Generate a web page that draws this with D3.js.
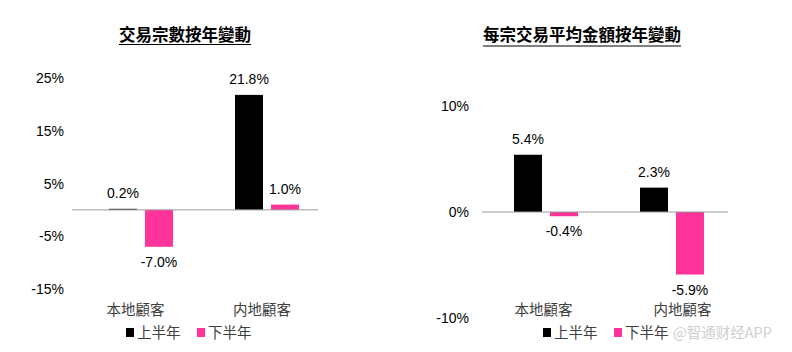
<!DOCTYPE html>
<meta charset="utf-8">
<style>
body { margin: 0; background: #fff; }
svg { display: block; }
.num { font-family: "Liberation Sans", Arial, sans-serif; font-size: 14px; fill: #000; }
.cjk { font-family: "Noto Sans CJK TC", "Noto Sans CJK SC", sans-serif; font-size: 14.5px; fill: #404040; }
.title { font-family: "Noto Sans CJK TC", sans-serif; font-size: 16.5px; font-weight: bold; fill: #000; }
</style>
<body>
<svg width="792" height="352"></svg>
<script src="https://d3js.org/d3.v7.min.js"></script>
<script>

// data
var categories = ["本地顧客", "内地顧客"];
var seriesNames = ["上半年", "下半年"];
var seriesColors = ["#000000", "#ff3399"];

var countTitle = "交易宗數按年變動";
var countH1 = [0.2, 21.8];
var countH2 = [-7.0, 1.0];
var countTicks = [25, 15, 5, -5, -15];

var avgTitle = "每宗交易平均金額按年變動";
var avgH1 = [5.4, 2.3];
var avgH2 = [-0.4, -5.9];
var avgTicks = [10, 0, -10];

var watermark = "@智通财经APP";

var svg = d3.select("svg");

function drawChart(opt) {
  var g = svg.append("g");

  var y = d3.scaleLinear().domain(opt.domain).range([opt.yBottom, opt.yTop]);
  var x = d3.scaleBand().domain(categories).range(opt.xRange);
  // two 28px bars with an 8px gap, centred on the category
  var xs = d3.scaleBand().domain(seriesNames).range([-32, 32]).paddingInner(8 / 36);

  // title with underline
  var t = g.append("text").attr("class", "title")
      .attr("x", opt.titleX).attr("y", 41)
      .attr("text-anchor", "middle")
      .text(opt.title);
  var bb = t.node().getBBox();
  g.append("line")
      .attr("x1", bb.x).attr("x2", bb.x + bb.width)
      .attr("y1", opt.underlineY).attr("y2", opt.underlineY)
      .attr("stroke", "#000").attr("stroke-width", 1.2);

  // y tick labels
  g.selectAll(".tick").data(opt.ticks).enter().append("text")
      .attr("class", "num")
      .attr("x", opt.tickX)
      .attr("y", d => y(d) + 5)
      .attr("text-anchor", "end")
      .text(d => d + "%");

  // bars
  var rows = [];
  categories.forEach(function(c, i) {
    seriesNames.forEach(function(s, j) {
      rows.push({cat: c, ser: s, j: j, v: opt.values[j][i]});
    });
  });

  g.selectAll(".bar").data(rows).enter().append("rect")
      .attr("x", d => x(d.cat) + x.bandwidth() / 2 + xs(d.ser))
      .attr("width", xs.bandwidth())
      .attr("y", d => y(Math.max(0, d.v)))
      .attr("height", d => Math.abs(y(d.v) - y(0)))
      .attr("fill", d => seriesColors[d.j]);

  // zero line
  g.append("line")
      .attr("x1", opt.axisX[0]).attr("x2", opt.axisX[1])
      .attr("y1", y(0)).attr("y2", y(0))
      .attr("stroke", "#9a9a9a").attr("stroke-width", 1);

  // value labels
  g.selectAll(".val").data(rows).enter().append("text")
      .attr("class", "num")
      .attr("text-anchor", "middle")
      .attr("x", d => x(d.cat) + x.bandwidth() / 2 + xs(d.ser) + xs.bandwidth() / 2)
      .attr("y", d => d.v >= 0 ? y(d.v) - 11 : y(d.v) + 20)
      .text(d => d.v.toFixed(1) + "%");

  // category labels
  g.selectAll(".cat").data(categories).enter().append("text")
      .attr("class", "cjk")
      .attr("text-anchor", "middle")
      .attr("x", (d, i) => x(d) + x.bandwidth() / 2 + opt.catShift[i])
      .attr("y", 315)
      .text(d => d);

  // legend
  seriesNames.forEach(function(s, j) {
    var lx = opt.legendX[j];
    g.append("rect").attr("x", lx).attr("y", 328).attr("width", 8).attr("height", 9)
        .attr("fill", seriesColors[j]);
    g.append("text").attr("class", "cjk").attr("x", lx + 11).attr("y", 338).text(s);
  });
}

drawChart({
  title: countTitle, titleX: 185, underlineY: 44.5,
  domain: [-15, 25], yBottom: 289, yTop: 78,
  ticks: countTicks, tickX: 64,
  xRange: [78, 330], axisX: [72, 318],
  values: [countH1, countH2],
  catShift: [-5.5, -5],
  legendX: [126, 197]
});

drawChart({
  title: avgTitle, titleX: 582, underlineY: 46,
  domain: [-10, 10], yBottom: 318, yTop: 106,
  ticks: avgTicks, tickX: 469,
  xRange: [483, 735], axisX: [482, 728],
  values: [avgH1, avgH2],
  catShift: [-2.5, 10.5],
  legendX: [543, 614]
});

svg.append("text")
    .attr("x", 673).attr("y", 338)
    .style("font-family", "'Noto Sans CJK SC', sans-serif")
    .style("font-size", "14.5px")
    .attr("fill", "#cfcfcf")
    .text(watermark);

</script>
</body>
